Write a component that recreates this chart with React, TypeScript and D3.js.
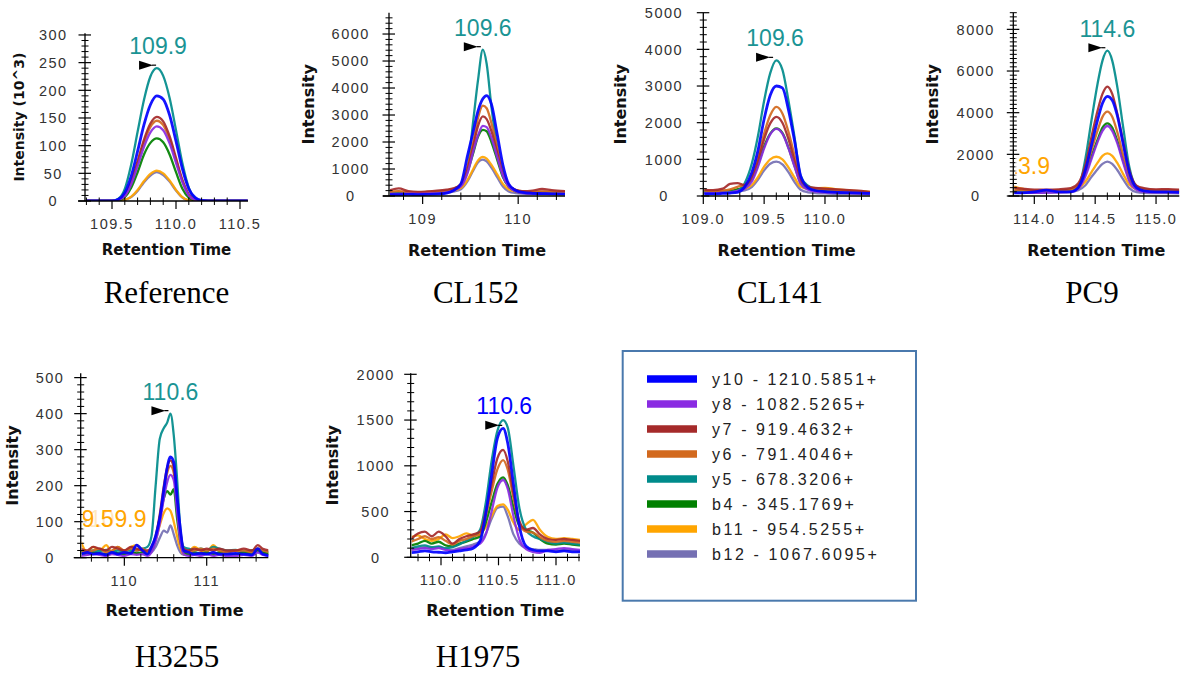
import React from 'react';
import * as d3 from 'd3';

// ---------- series meta ----------
const SERIES_LABELS = ['y10 - 1210.5851+', 'y8 - 1082.5265+', 'y7 - 919.4632+', 'y6 - 791.4046+', 'y5 - 678.3206+', 'b4 - 345.1769+', 'b11 - 954.5255+', 'b12 - 1067.6095+'];
const SERIES_COLORS = ['#0000ff', '#8a2be2', '#a52a2a', '#d2691e', '#008b8b', '#008000', '#ffa500', '#7570b3'];
const DRAW_ORDER = [7, 6, 5, 4, 3, 2, 1, 0];
const TEAL_TEXT = '#1a9494';

// ---------- Reference (intensity in 10^3) ----------
const refTimes = [109.29, 109.4, 109.5, 109.55, 109.6, 109.65, 109.7, 109.75, 109.8, 109.85, 109.9, 109.95, 110.0, 110.05, 110.1, 110.15, 110.2, 110.3, 110.4, 110.56];
const refY10 = [0, 0, 0, 3, 15, 45, 90, 138, 174, 190, 184, 155, 108, 58, 22, 6, 1, 0, 0, 0];
const refY8 = [0, 0, 0, 2, 9, 30, 63, 98, 124, 135, 128, 104, 69, 34, 10, 2, 0, 0, 0, 0];
const refY7 = [0, 0, 0, 2, 11, 35, 72, 111, 140, 152, 144, 117, 78, 38, 12, 2, 0, 0, 0, 0];
const refY6 = [0, 0, 0, 2, 10, 33, 68, 106, 134, 145, 137, 111, 74, 36, 11, 2, 0, 0, 0, 0];
const refY5 = [0, 0, 0, 4, 22, 66, 125, 183, 225, 240, 226, 186, 128, 68, 24, 5, 1, 0, 0, 0];
const refB4 = [0, 0, 0, 1, 7, 24, 52, 84, 105, 113, 106, 84, 52, 22, 6, 1, 0, 0, 0, 0];
const refB11 = [0, 0, 0, 0, 2, 8, 20, 36, 49, 55, 50, 37, 20, 7, 1, 0, 0, 0, 0, 0];
const refB12 = [0, 0, 0, 0, 2, 7, 18, 34, 46, 52, 47, 35, 19, 6, 1, 0, 0, 0, 0, 0];

// ---------- CL152 ----------
const cl152Times = [108.65, 108.75, 108.85, 108.95, 109.05, 109.15, 109.25, 109.32, 109.4, 109.47, 109.53, 109.58, 109.63, 109.67, 109.72, 109.78, 109.84, 109.9, 109.97, 110.05, 110.15, 110.25, 110.35, 110.49];
const cl152Y10 = [50, 50, 60, 50, 60, 70, 110, 200, 450, 1500, 2400, 3150, 3600, 3720, 3400, 2300, 1150, 450, 220, 130, 100, 90, 80, 70];
const cl152Y8 = [80, 80, 90, 80, 90, 100, 130, 200, 350, 850, 1650, 2250, 2600, 2550, 2150, 1450, 750, 350, 180, 110, 90, 90, 80, 80];
const cl152Y7 = [200, 280, 180, 150, 170, 200, 240, 280, 420, 1000, 1850, 2600, 2950, 2850, 2400, 1600, 800, 400, 230, 180, 200, 260, 220, 180];
const cl152Y6 = [150, 180, 140, 130, 150, 170, 200, 260, 450, 1100, 2000, 2900, 3350, 3250, 2700, 1800, 900, 420, 230, 170, 150, 170, 160, 150];
const cl152Y5 = [120, 100, 90, 100, 110, 120, 150, 250, 420, 1000, 2800, 4300, 5420, 4900, 3300, 1800, 750, 380, 220, 150, 120, 130, 120, 110];
const cl152B4 = [100, 110, 100, 90, 100, 110, 150, 220, 380, 900, 1600, 2200, 2450, 2400, 2000, 1350, 700, 350, 180, 120, 110, 120, 110, 100];
const cl152B11 = [150, 160, 130, 120, 140, 160, 190, 220, 300, 600, 1000, 1320, 1450, 1380, 1150, 800, 450, 250, 170, 140, 130, 150, 150, 140];
const cl152B12 = [90, 90, 90, 90, 100, 110, 130, 160, 250, 550, 950, 1250, 1350, 1280, 1050, 700, 350, 170, 110, 90, 80, 80, 80, 80];

// ---------- CL141 ----------
const cl141Times = [109.0, 109.08, 109.16, 109.22, 109.28, 109.34, 109.4, 109.45, 109.5, 109.55, 109.6, 109.65, 109.7, 109.75, 109.8, 109.86, 109.92, 110.0, 110.1, 110.2, 110.3, 110.37];
const cl141Y10 = [60, 60, 70, 80, 100, 250, 650, 1250, 2100, 2750, 3000, 2950, 2350, 1500, 550, 230, 150, 120, 100, 90, 80, 70];
const cl141Y8 = [80, 80, 90, 100, 140, 200, 400, 800, 1300, 1680, 1830, 1700, 1300, 800, 330, 170, 120, 100, 90, 80, 70, 60];
const cl141Y7 = [170, 160, 200, 330, 350, 300, 500, 950, 1550, 1980, 2160, 2000, 1550, 950, 420, 260, 220, 200, 180, 160, 140, 110];
const cl141Y6 = [150, 140, 150, 180, 250, 300, 550, 1050, 1700, 2200, 2430, 2250, 1750, 1100, 450, 250, 200, 180, 160, 140, 120, 100];
const cl141Y5 = [120, 110, 100, 110, 150, 350, 900, 1650, 2600, 3350, 3700, 3450, 2600, 1600, 550, 280, 200, 180, 150, 120, 100, 80];
const cl141B4 = [100, 100, 110, 130, 180, 240, 450, 850, 1350, 1700, 1845, 1720, 1320, 820, 360, 200, 160, 140, 120, 100, 90, 80];
const cl141B11 = [130, 120, 130, 150, 180, 200, 300, 520, 800, 1000, 1070, 1000, 780, 500, 250, 200, 210, 220, 180, 150, 130, 110];
const cl141B12 = [80, 80, 90, 100, 120, 150, 250, 450, 700, 880, 935, 860, 650, 380, 170, 100, 80, 70, 60, 60, 60, 50];

// ---------- PC9 ----------
const pc9Times = [113.83, 113.9, 114.0, 114.1, 114.2, 114.3, 114.36, 114.42, 114.47, 114.52, 114.56, 114.6, 114.64, 114.68, 114.73, 114.78, 114.84, 114.9, 115.0, 115.1, 115.19];
const pc9Y10 = [150, 150, 200, 280, 200, 200, 400, 1250, 2450, 3650, 4450, 4780, 4600, 3900, 2500, 1150, 400, 250, 200, 200, 180];
const pc9Y8 = [150, 150, 150, 160, 170, 200, 350, 950, 1780, 2600, 3130, 3360, 3130, 2560, 1600, 720, 300, 200, 170, 170, 160];
const pc9Y7 = [400, 350, 300, 300, 320, 380, 600, 1500, 2850, 4100, 4900, 5250, 4900, 4000, 2600, 1250, 500, 380, 320, 330, 300];
const pc9Y6 = [300, 280, 250, 260, 280, 320, 500, 1200, 2200, 3150, 3800, 4050, 3800, 3100, 1950, 950, 450, 320, 280, 280, 270];
const pc9Y5 = [250, 230, 200, 220, 240, 300, 400, 1800, 3650, 5400, 6500, 6975, 6500, 5300, 3300, 1400, 450, 320, 280, 260, 250];
const pc9B4 = [200, 200, 180, 200, 220, 260, 420, 1050, 1900, 2700, 3280, 3490, 3280, 2680, 1700, 800, 370, 250, 220, 220, 210];
const pc9B11 = [450, 350, 250, 250, 260, 280, 380, 700, 1150, 1600, 1930, 2050, 1930, 1600, 1050, 550, 320, 250, 230, 230, 220];
const pc9B12 = [150, 150, 150, 160, 170, 190, 280, 520, 920, 1290, 1540, 1650, 1540, 1260, 800, 380, 190, 150, 140, 140, 130];

// ---------- H3255 ----------
const h3255Times = [109.47, 109.55, 109.62, 109.7, 109.78, 109.85, 109.92, 110.0, 110.08, 110.15, 110.22, 110.28, 110.33, 110.38, 110.43, 110.48, 110.52, 110.56, 110.6, 110.64, 110.68, 110.72, 110.78, 110.85, 110.93, 111.0, 111.08, 111.15, 111.25, 111.35, 111.45, 111.55, 111.62, 111.68, 111.77];
const h3255Y10 = [10, 15, 10, 12, 8, 15, 10, 15, 12, 35, 20, 10, 30, 60, 110, 190, 250, 280, 265, 170, 80, 20, 15, 10, 12, 10, 15, 10, 10, 12, 10, 8, 25, 10, 5];
const h3255Y8 = [5, 8, 10, 8, 5, 10, 8, 5, 10, 8, 10, 5, 15, 45, 95, 165, 210, 230, 215, 130, 45, 10, 5, 8, 5, 10, 5, 8, 5, 5, 8, 5, 15, 8, 5];
const h3255Y7 = [25, 20, 30, 25, 20, 30, 25, 20, 30, 25, 20, 20, 30, 60, 120, 200, 250, 270, 250, 160, 70, 25, 20, 25, 20, 25, 20, 25, 20, 20, 25, 20, 35, 25, 20];
const h3255Y6 = [20, 15, 20, 25, 15, 20, 30, 20, 25, 20, 25, 15, 25, 55, 110, 185, 235, 255, 235, 150, 60, 20, 15, 20, 25, 20, 25, 20, 15, 20, 20, 15, 25, 20, 15];
const h3255Y5 = [20, 15, 20, 18, 22, 15, 20, 18, 22, 20, 25, 30, 60, 200, 330, 360, 375, 400, 340, 220, 80, 30, 25, 20, 25, 20, 30, 25, 20, 22, 18, 20, 25, 20, 15];
const h3255B4 = [15, 10, 15, 12, 10, 15, 12, 10, 15, 12, 15, 10, 20, 55, 110, 165, 185, 175, 190, 110, 45, 15, 10, 15, 12, 15, 10, 15, 12, 10, 15, 12, 20, 15, 10];
const h3255B11 = [45, 15, 30, 20, 35, 15, 30, 15, 30, 35, 20, 15, 25, 50, 90, 125, 137, 130, 100, 60, 25, 10, 15, 30, 20, 15, 35, 20, 15, 20, 15, 20, 20, 15, 10];
const h3255B12 = [15, 10, 15, 12, 10, 15, 12, 10, 15, 12, 10, 10, 15, 30, 55, 75, 70, 90, 65, 35, 15, 8, 8, 10, 8, 10, 8, 10, 8, 8, 10, 8, 15, 10, 8];

// ---------- H1975 ----------
const h1975Times = [109.74, 109.8, 109.86, 109.92, 109.98, 110.04, 110.1, 110.16, 110.22, 110.28, 110.34, 110.39, 110.44, 110.49, 110.54, 110.58, 110.63, 110.68, 110.74, 110.8, 110.86, 110.93, 111.0, 111.07, 111.14, 111.21];
const h1975Y10 = [50, 60, 70, 60, 55, 50, 60, 70, 80, 100, 180, 480, 900, 1300, 1410, 1250, 800, 350, 120, 80, 70, 70, 60, 70, 60, 60];
const h1975Y8 = [80, 90, 100, 90, 100, 80, 70, 90, 100, 120, 150, 250, 500, 760, 845, 750, 450, 200, 90, 60, 50, 80, 90, 100, 90, 80];
const h1975Y7 = [200, 260, 280, 230, 280, 230, 150, 200, 230, 250, 280, 500, 800, 1080, 1173, 1050, 700, 400, 300, 320, 250, 200, 190, 200, 190, 180];
const h1975Y6 = [170, 200, 230, 200, 220, 180, 140, 180, 200, 230, 250, 450, 720, 960, 1063, 960, 650, 380, 280, 270, 220, 180, 170, 180, 170, 160];
const h1975Y5 = [100, 120, 130, 110, 120, 100, 110, 140, 180, 220, 300, 600, 1050, 1380, 1500, 1420, 1000, 550, 300, 230, 200, 170, 150, 160, 150, 140];
const h1975B4 = [130, 150, 180, 150, 170, 130, 120, 150, 170, 200, 230, 380, 600, 800, 874, 790, 550, 350, 300, 270, 200, 150, 140, 150, 140, 130];
const h1975B11 = [220, 240, 200, 180, 200, 250, 210, 230, 262, 240, 260, 330, 450, 560, 579, 520, 380, 300, 360, 410, 300, 220, 200, 210, 200, 190];
const h1975B12 = [90, 100, 110, 100, 110, 90, 80, 100, 120, 140, 170, 260, 420, 540, 553, 450, 250, 150, 100, 90, 80, 80, 70, 80, 80, 70];

// ---------- labels ----------
type Label = { text: string; t: number; v: number; color: string; marker: boolean };
const refLabels: Label[] = [{ text: '109.9', t: 109.86, v: 240, color: TEAL_TEXT, marker: true }];
const cl152Labels: Label[] = [{ text: '109.6', t: 109.63, v: 5420, color: TEAL_TEXT, marker: true }];
const cl141Labels: Label[] = [{ text: '109.6', t: 109.59, v: 3700, color: TEAL_TEXT, marker: true }];
const pc9Labels: Label[] = [
  { text: '114.6', t: 114.6, v: 6975, color: TEAL_TEXT, marker: true },
  { text: '113.9', t: 113.9, v: 400, color: '#ffa500', marker: false },
];
const h3255Labels: Label[] = [
  { text: '110.6', t: 110.56, v: 400, color: TEAL_TEXT, marker: true },
  { text: '109.9', t: 109.92, v: 45, color: '#ffa500', marker: false },
  { text: '109.5', t: 109.52, v: 45, color: '#ffa500', marker: false },
];
const h1975Labels: Label[] = [{ text: '110.6', t: 110.55, v: 1410, color: '#0000ff', marker: true }];

const CAPTIONS = ['Reference', 'CL152', 'CL141', 'PC9', 'H3255', 'H1975'];
const Y_TITLES = ['Intensity (10^3)', 'Intensity', 'Intensity', 'Intensity', 'Intensity', 'Intensity'];

type PanelData = { caption: string; yTitle: string; times: number[]; series: number[][]; labels: Label[] };
const PANELS: PanelData[] = [
  { caption: CAPTIONS[0], yTitle: Y_TITLES[0], times: refTimes, series: [refY10, refY8, refY7, refY6, refY5, refB4, refB11, refB12], labels: refLabels },
  { caption: CAPTIONS[1], yTitle: Y_TITLES[1], times: cl152Times, series: [cl152Y10, cl152Y8, cl152Y7, cl152Y6, cl152Y5, cl152B4, cl152B11, cl152B12], labels: cl152Labels },
  { caption: CAPTIONS[2], yTitle: Y_TITLES[2], times: cl141Times, series: [cl141Y10, cl141Y8, cl141Y7, cl141Y6, cl141Y5, cl141B4, cl141B11, cl141B12], labels: cl141Labels },
  { caption: CAPTIONS[3], yTitle: Y_TITLES[3], times: pc9Times, series: [pc9Y10, pc9Y8, pc9Y7, pc9Y6, pc9Y5, pc9B4, pc9B11, pc9B12], labels: pc9Labels },
  { caption: CAPTIONS[4], yTitle: Y_TITLES[4], times: h3255Times, series: [h3255Y10, h3255Y8, h3255Y7, h3255Y6, h3255Y5, h3255B4, h3255B11, h3255B12], labels: h3255Labels },
  { caption: CAPTIONS[5], yTitle: Y_TITLES[5], times: h1975Times, series: [h1975Y10, h1975Y8, h1975Y7, h1975Y6, h1975Y5, h1975B4, h1975B11, h1975B12], labels: h1975Labels },
];

// ---------- layout (positions / styles) ----------
type Layout = {
  x0: number; x1: number; yBottom: number; yTop: number;
  xDomain: [number, number]; yMax: number;
  yStep: number; yMinor: number; xStep: number; xMinor: number; xDec: number;
  yLabelDx: number; yTitleDx: number; yTitleSize: number; xTitleSize: number; xTitleY: number;
  captionX: number; captionY: number; xExt: number;
};
const LAYOUTS: Layout[] = [
  { x0: 85, x1: 248, yBottom: 201, yTop: 33.3, xDomain: [109.289, 110.5625], yMax: 303, yStep: 50, yMinor: 10, xStep: 0.5, xMinor: 0.1, xDec: 1, yLabelDx: 31.7, yTitleDx: -61, yTitleSize: 14, xTitleSize: 15, xTitleY: 255, captionX: 166.5, captionY: 303, xExt: 7 },
  { x0: 389, x1: 565, yBottom: 196, yTop: 12.7, xDomain: [108.648, 110.49], yMax: 6790, yStep: 1000, yMinor: 200, xStep: 1, xMinor: 0.2, xDec: 0, yLabelDx: 38.3, yTitleDx: -75.5, yTitleSize: 16, xTitleSize: 16, xTitleY: 256, captionX: 476, captionY: 303, xExt: 6 },
  { x0: 703.3, x1: 870, yBottom: 196, yTop: 12.7, xDomain: [109.0, 110.37], yMax: 5000, yStep: 1000, yMinor: 200, xStep: 0.5, xMinor: 0.1, xDec: 1, yLabelDx: 39.3, yTitleDx: -77.8, yTitleSize: 16, xTitleSize: 16, xTitleY: 256, captionX: 780, captionY: 303, xExt: 2 },
  { x0: 1013.3, x1: 1179.3, yBottom: 196, yTop: 12.7, xDomain: [113.8274, 115.191], yMax: 8800, yStep: 2000, yMinor: 200, xStep: 0.5, xMinor: 0.1, xDec: 1, yLabelDx: 37.6, yTitleDx: -75.8, yTitleSize: 16, xTitleSize: 16, xTitleY: 256, captionX: 1092, captionY: 303, xExt: 5 },
  { x0: 80.7, x1: 268.3, yBottom: 557.7, yTop: 373.3, xDomain: [109.47, 111.748], yMax: 512, yStep: 100, yMinor: 20, xStep: 1, xMinor: 0.2, xDec: 0, yLabelDx: 30.7, yTitleDx: -63.2, yTitleSize: 16, xTitleSize: 16, xTitleY: 616, captionX: 177, captionY: 667, xExt: 7 },
  { x0: 410.7, x1: 580, yBottom: 557.3, yTop: 373.3, xDomain: [109.7365, 111.2087], yMax: 2011, yStep: 500, yMinor: 100, xStep: 0.5, xMinor: 0.1, xDec: 1, yLabelDx: 35, yTitleDx: -73.2, yTitleSize: 16, xTitleSize: 16, xTitleY: 616, captionX: 478, captionY: 667, xExt: 4 },
];

const SANS = "'Liberation Sans', Arial, sans-serif";
const BOLD = "'DejaVu Sans', Verdana, sans-serif";
const SERIF = "'Liberation Serif', 'Times New Roman', serif";

function Panel({ d, L, idx }: { d: PanelData; L: Layout; idx: number }) {
  const x = d3.scaleLinear().domain(L.xDomain).range([L.x0, L.x1]);
  const y = d3.scaleLinear().domain([0, L.yMax]).range([L.yBottom, L.yTop]);
  const line = d3
    .line<number>()
    .x((_, i) => x(d.times[i]))
    .y((v) => y(v))
    .curve(d3.curveMonotoneX);
  const eps = 1e-6;
  const isMult = (v: number, s: number) => Math.abs(v / s - Math.round(v / s)) < 1e-6;
  const yMajor = d3.range(0, L.yMax + eps, L.yStep);
  const yMin = d3.range(0, L.yMax + eps, L.yMinor).filter((v) => !isMult(v, L.yStep));
  const xMajor = d3
    .range(Math.ceil(L.xDomain[0] / L.xStep - eps), Math.floor(L.xDomain[1] / L.xStep + eps) + 1)
    .map((k) => k * L.xStep);
  const xMin = d3
    .range(Math.ceil(L.xDomain[0] / L.xMinor - eps), Math.floor(L.xDomain[1] / L.xMinor + eps) + 1)
    .map((k) => k * L.xMinor)
    .filter((v) => !isMult(v, L.xStep));
  const clipId = `clip${idx}`;
  const lclipId = `lclip${idx}`;
  const midY = (L.yTop + L.yBottom) / 2;
  const fs = 23;
  return (
    <g>
      <defs>
        <clipPath id={clipId}>
          <rect x={L.x0 + 1} y={L.yTop - 5} width={L.x1 - L.x0 - 1} height={L.yBottom - L.yTop + 5} />
        </clipPath>
        <clipPath id={lclipId}>
          <rect x={L.x0 + 2} y={L.yTop - 40} width={L.x1 - L.x0 + 20} height={L.yBottom - L.yTop + 40} />
        </clipPath>
      </defs>
      {/* curves */}
      <g clipPath={`url(#${clipId})`}>
        {DRAW_ORDER.map((si) => (
          <path
            key={si}
            d={line(d.series[si]) || ''}
            fill="none"
            stroke={SERIES_COLORS[si]}
            strokeWidth={si === 0 ? 2.8 : 2.3}
            strokeOpacity={0.92}
            strokeLinejoin="round"
          />
        ))}
      </g>
      {/* axes */}
      <line x1={L.x0} x2={L.x0} y1={L.yTop} y2={L.yBottom} stroke="#000" strokeWidth={1.3} />
      <line x1={L.x0 - L.xExt} x2={L.x1} y1={L.yBottom} y2={L.yBottom} stroke="#000" strokeWidth={1.3} />
      {yMin.map((v, i) => (
        <line key={'ym' + i} x1={L.x0 - 3.5} x2={L.x0 + 3.5} y1={y(v)} y2={y(v)} stroke="#000" strokeWidth={1} />
      ))}
      {yMajor.map((v, i) => (
        <g key={'yM' + i}>
          <line x1={L.x0 - 6.5} x2={L.x0 + 6} y1={y(v)} y2={y(v)} stroke="#000" strokeWidth={1.2} />
          <text x={L.x0 - L.yLabelDx} y={y(v) + 5.2} textAnchor="middle" fontFamily={SANS} fontSize={14.5} fill="#333" style={{ letterSpacing: '1.5px' }}>
            {d3.format('d')(v)}
          </text>
        </g>
      ))}
      {xMin.map((v, i) => (
        <line key={'xm' + i} x1={x(v)} x2={x(v)} y1={L.yBottom - 3.5} y2={L.yBottom + 4} stroke="#000" strokeWidth={1} />
      ))}
      {xMajor.map((v, i) => (
        <g key={'xM' + i}>
          <line x1={x(v)} x2={x(v)} y1={L.yBottom} y2={L.yBottom + 8} stroke="#000" strokeWidth={1.2} />
          <text x={x(v)} y={L.yBottom + 28} textAnchor="middle" fontFamily={SANS} fontSize={14.5} fill="#333" style={{ letterSpacing: '1.5px' }}>
            {v.toFixed(L.xDec)}
          </text>
        </g>
      ))}
      {/* titles */}
      <text
        transform={`translate(${L.x0 + L.yTitleDx},${midY}) rotate(-90)`}
        textAnchor="middle"
        fontFamily={BOLD}
        fontWeight="bold"
        fontSize={L.yTitleSize}
        fill="#111"
      >
        {d.yTitle}
      </text>
      <text x={(L.x0 + L.x1) / 2} y={L.xTitleY} textAnchor="middle" fontFamily={BOLD} fontWeight="bold" fontSize={L.xTitleSize} fill="#111">
        Retention Time
      </text>
      {/* peak labels */}
      <g clipPath={`url(#${lclipId})`}>
        {d.labels.map((lb, i) => {
          const px = x(lb.t);
          const py = y(lb.v);
          const w = Array.from(lb.text).reduce((s, c) => s + (c === '.' ? 0.278 : 0.556) * fs, 0);
          const base = py - 14;
          const cy = py - 3;
          return (
            <g key={i}>
              <rect x={px - w / 2 - 1} y={base - fs * 0.76} width={w + 2} height={fs * 0.86} fill="#fff" opacity={0.75} />
              <text x={px} y={base} textAnchor="middle" fontFamily={SANS} fontSize={fs} fill={lb.color}>
                {lb.text}
              </text>
              {lb.marker && (
                <g>
                  <path d={`M${px - 19},${cy - 4.5}L${px - 5},${cy}L${px - 19},${cy + 4.5}Z`} fill="#000" />
                  <line x1={px - 6} x2={px - 2} y1={cy} y2={cy} stroke="#000" strokeWidth={1.2} />
                </g>
              )}
            </g>
          );
        })}
      </g>
      {/* caption */}
      <text x={L.captionX} y={L.captionY} textAnchor="middle" fontFamily={SERIF} fontSize={31} fill="#000">
        {d.caption}
      </text>
    </g>
  );
}

function Legend() {
  const left = 622.7;
  const top = 351;
  const rowY = (i: number) => 379 + i * 25;
  return (
    <g>
      <rect x={left} y={top} width={293.3} height={249.7} fill="#fff" stroke="#4a79ad" strokeWidth={2} />
      {SERIES_LABELS.map((s, i) => (
        <g key={s}>
          <line x1={647} x2={697} y1={rowY(i)} y2={rowY(i)} stroke={SERIES_COLORS[i]} strokeWidth={7.5} />
          <text x={712} y={rowY(i) + 5.8} fontFamily={SANS} fontSize={16} fill="#222" style={{ letterSpacing: '2.6px' }}>
            {s}
          </text>
        </g>
      ))}
    </g>
  );
}

export default function App() {
  return (
    <svg
      width={1187}
      height={674}
      viewBox="0 0 1187 674"
      style={{ position: 'absolute', left: 0, top: 0, background: '#fff' }}
    >
      <rect x={0} y={0} width={1187} height={674} fill="#fff" />
      {PANELS.map((p, i) => (
        <Panel key={i} d={p} L={LAYOUTS[i]} idx={i} />
      ))}
      <Legend />
    </svg>
  );
}
